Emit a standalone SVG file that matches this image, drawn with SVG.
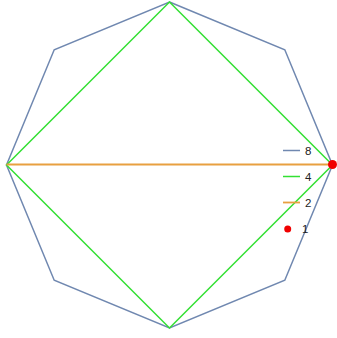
<svg xmlns="http://www.w3.org/2000/svg" width="337" height="338" viewBox="0 0 337 338">
<style>
.oct{fill:none;stroke:#7088b0;stroke-width:1.5}
.sq{fill:none;stroke:#33e033;stroke-width:1.5}
.ln{fill:none;stroke:#e8a040;stroke-width:1.8}
.lg{font-family:"Liberation Sans",Arial,sans-serif;font-size:11.5px;fill:#222}
</style>
<rect width="337" height="338" fill="#fff"/>
<g id="octagon"><polygon class="oct" points="169.5,2 284.8,49.7 332.5,165 284.8,280.3 169.5,328 54.2,280.3 6.5,165 54.2,49.7"/></g>
<g id="square"><polygon class="sq" points="169.5,2 332.5,165 169.5,328 6.5,165"/></g>
<g id="diameter"><line class="ln" x1="6.5" y1="164.5" x2="332.5" y2="164.5"/></g>
<g id="point"><circle cx="332.5" cy="164.5" r="4.5" fill="#f00000"/></g>
<g id="legend">
<line x1="283" y1="150.5" x2="300" y2="150.5" stroke="#7088b0" stroke-width="1.5"/>
<text class="lg" x="305" y="154.5">8</text>
<line x1="283" y1="176.5" x2="300" y2="176.5" stroke="#33e033" stroke-width="1.5"/>
<text class="lg" x="305" y="180.5">4</text>
<line x1="283" y1="202.5" x2="300" y2="202.5" stroke="#e8a040" stroke-width="1.8"/>
<text class="lg" x="305" y="206.5">2</text>
<circle cx="287.7" cy="229" r="3.5" fill="#f00000"/>
<text class="lg" x="302" y="233">1</text>
</g>
</svg>
